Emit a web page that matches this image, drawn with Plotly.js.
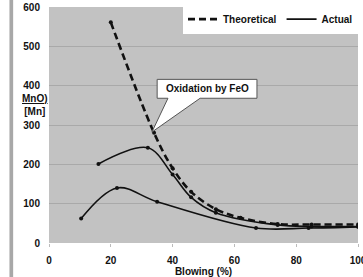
<!DOCTYPE html>
<html>
<head>
<meta charset="utf-8">
<script src="https://cdn.plot.ly/plotly-3.0.1.min.js"></script>
<style>
  html, body { margin: 0; padding: 0; background: #fff; }
  #chart { width: 363px; height: 277px; }
</style>
</head>
<body>
<div id="chart"></div>
<script>
// (MnO)/[Mn] ratio against blowing progress
const theoreticalX = [20, 34, 40, 46, 54, 62, 74, 85, 100];
const theoreticalY = [561, 280, 190, 130, 86, 64, 48, 47, 47];

const actualHighX = [16, 32, 40, 46, 54, 74, 85, 100];
const actualHighY = [201, 242, 174, 116, 77, 46, 42, 42];

const actualLowX = [10.4, 22, 35, 67, 84, 100];
const actualLowY = [62, 140, 105, 38, 38, 41];

const xTicks = [0, 20, 40, 60, 80, 100];
const yTicks = [0, 100, 200, 300, 400, 500, 600];

const calloutText = 'Oxidation by FeO';
const calloutTip = [33.3, 282];          // where the callout points on the theoretical curve
const calloutBox = [35, 67.3, 368, 416]; // x0, x1, y0, y1 of the bubble
const calloutBase = [38.5, 48.9];        // x range where the tail leaves the bubble

const FONT = 'Liberation Sans, Arial, sans-serif';
const INK = '#111';

function curve(name, xs, ys, dash, width, inLegend) {
  return [
    {
      name: name, x: xs, y: ys, type: 'scatter', mode: 'lines',
      showlegend: inLegend, legendgroup: name,
      line: { color: INK, width: width, dash: dash, shape: 'spline', smoothing: 1 }
    },
    {
      name: name, x: xs, y: ys, type: 'scatter', mode: 'markers',
      showlegend: false, legendgroup: name,
      marker: { color: INK, size: 4 }
    }
  ];
}

const traces = [].concat(
  curve('Theoretical', theoreticalX, theoreticalY, '7px,4px', 2.6, true),
  curve('Actual', actualHighX, actualHighY, 'solid', 1.6, true),
  curve('Actual ', actualLowX, actualLowY, 'solid', 1.6, false)
);

const [bx0, bx1, by0, by1] = calloutBox;
const calloutPath = 'M ' + bx0 + ',' + by1 + ' L ' + bx1 + ',' + by1 +
  ' L ' + bx1 + ',' + by0 + ' L ' + calloutBase[1] + ',' + by0 +
  ' L ' + calloutTip[0] + ',' + calloutTip[1] +
  ' L ' + calloutBase[0] + ',' + by0 + ' L ' + bx0 + ',' + by0 + ' Z';

const boldFont = { family: FONT, size: 10, color: INK, weight: 'bold' };

const layout = {
  width: 363, height: 277,
  margin: { l: 49, r: 5, t: 7, b: 34 },
  paper_bgcolor: '#ffffff',
  plot_bgcolor: '#c2c2c2',
  font: { family: FONT, size: 10, color: INK },
  showlegend: true,
  legend: {
    orientation: 'h', x: 1, xanchor: 'right', y: 1.01, yanchor: 'top',
    bgcolor: '#ffffff', borderwidth: 0, font: boldFont
  },
  xaxis: {
    range: [0, 100], tickvals: xTicks, ticktext: xTicks.map(String),
    showgrid: false, zeroline: false, showline: false,
    ticks: 'outside', ticklen: 3, tickcolor: '#bbbbbb', ticklabelstandoff: 5,
    ticklabeloverflow: 'allow',
    tickfont: boldFont,
    title: { text: 'Blowing (%)', standoff: 4, font: boldFont }
  },
  yaxis: {
    range: [0, 600], tickvals: yTicks, ticktext: yTicks.map(String),
    showgrid: true, gridcolor: '#a9a9a9', gridwidth: 1,
    zeroline: false, showline: false, ticks: '', ticklabelstandoff: 8,
    tickfont: boldFont
  },
  shapes: [
    {
      type: 'rect', xref: 'paper', yref: 'paper', layer: 'below',
      x0: -0.128, x1: -0.116, y0: -0.16, y1: 1.05,
      fillcolor: '#a8a8a8', line: { width: 0 }
    },
    {
      type: 'path', xref: 'x', yref: 'y', layer: 'above', path: calloutPath,
      fillcolor: '#ffffff', line: { color: '#555555', width: 1 }
    }
  ],
  annotations: [
    {
      xref: 'x', yref: 'y', x: (bx0 + bx1) / 2, y: (by0 + by1) / 2,
      text: '<b>' + calloutText + '</b>', showarrow: false,
      font: { family: FONT, size: 10, color: INK }
    },
    {
      xref: 'paper', yref: 'y', x: 0.002, xanchor: 'right', y: 350, yanchor: 'middle',
      text: '<b><u>MnO)</u><br>[Mn]</b>', showarrow: false, align: 'center',
      font: { family: FONT, size: 10, color: INK }
    }
  ]
};

Plotly.newPlot('chart', traces, layout, { displayModeBar: false, staticPlot: true });
</script>
</body>
</html>
